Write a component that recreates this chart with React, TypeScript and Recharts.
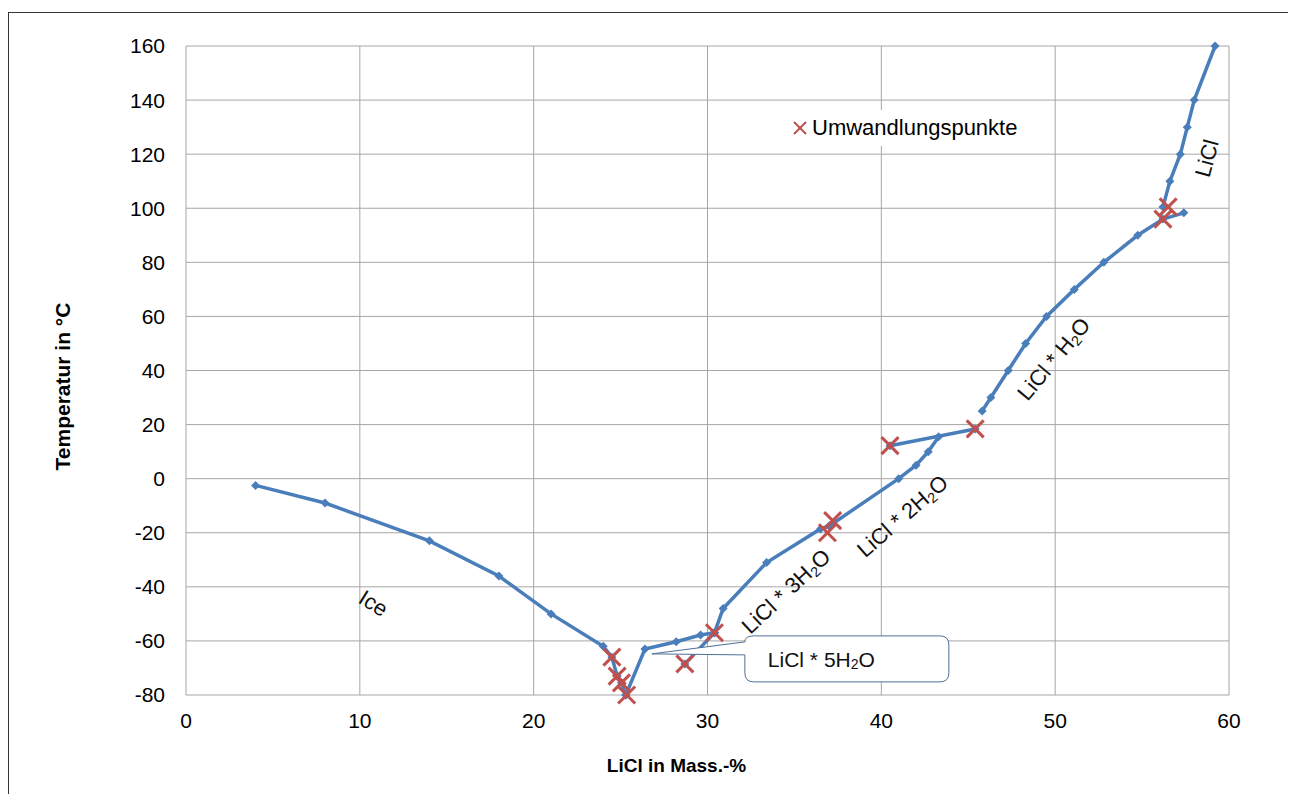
import React from 'react';
import { ScatterChart, Scatter, XAxis, YAxis, CartesianGrid, ReferenceDot } from 'recharts';

// LiCl–H2O phase diagram
const iceX = [4, 8, 14, 18, 21, 24, 24.5, 24.8, 25.05, 25.3];
const iceY = [-2.5, -9, -23, -36, -50, -62, -66, -73, -75.5, -80];

const pentaX = [25.3, 26.4, 28.2, 29.6, 30.4];
const pentaY = [-80, -63, -60.3, -57.8, -57];

const metaX = [28.7, 30.4];
const metaY = [-68.5, -57];

const triX = [30.4, 30.9, 33.4, 36.5, 37.0];
const triY = [-57, -48, -31, -18.6, -17.5];

const diX = [37.0, 41, 42, 42.7, 43.3];
const diY = [-17.5, 0, 5, 10, 15.5];

const linkX = [40.5, 45.4];
const linkY = [12.2, 18.4];

const monoX = [45.8, 46.3, 47.3, 48.3, 49.5, 51.1, 52.8, 54.75, 56.2, 57.4];
const monoY = [25, 30, 40, 50, 60, 70, 80, 90, 96, 98.3];

const anhX = [56.2, 56.6, 57.2, 57.6, 58.0, 59.2];
const anhY = [100.5, 110, 120, 130, 140, 160];

const crossX = [24.5, 24.8, 25.05, 25.35, 28.7, 30.4, 36.9, 37.2, 40.5, 45.4, 56.2, 56.5];
const crossY = [-66, -73, -75.5, -80, -68.5, -57, -20, -15.5, 12.2, 18.4, 96, 100.5];

const xTicks = [0, 10, 20, 30, 40, 50, 60];
const yTicks = [-80, -60, -40, -20, 0, 20, 40, 60, 80, 100, 120, 140, 160];

const BLUE = '#4A7EBB';
const RED = '#C0504D';
const GRID = '#A6A6A6';
const FONT = '"Liberation Sans", Arial, sans-serif';

const zip = (xs: number[], ys: number[]) => xs.map((x, i) => ({ x, y: ys[i] }));

const branches = [
  zip(iceX, iceY),
  zip(pentaX, pentaY),
  zip(metaX, metaY),
  zip(triX, triY),
  zip(diX, diY),
  zip(linkX, linkY),
  zip(monoX, monoY),
  zip(anhX, anhY),
];
const crossData = zip(crossX, crossY);

const Diamond = (props: any) => {
  const { cx, cy } = props;
  const s = 4.5;
  return <path d={`M${cx},${cy - s}L${cx + s},${cy}L${cx},${cy + s}L${cx - s},${cy}Z`} fill={BLUE} />;
};

const Cross = (props: any) => {
  const { cx, cy } = props;
  const s = 8.5;
  return (
    <g stroke={RED} strokeWidth={3}>
      <line x1={cx - s} y1={cy - s} x2={cx + s} y2={cy + s} />
      <line x1={cx - s} y1={cy + s} x2={cx + s} y2={cy - s} />
    </g>
  );
};

// rotated text with optional subscript, centred on the reference point
const Formula = (props: any) => {
  const { viewBox, pre, sub, post, rot = 0, size = 22 } = props;
  const cx = viewBox.x + (viewBox.width || 0) / 2;
  const cy = viewBox.y + (viewBox.height || 0) / 2;
  return (
    <text
      x={cx}
      y={cy}
      transform={`rotate(${rot} ${cx} ${cy})`}
      textAnchor="middle"
      dominantBaseline="central"
      fontSize={size}
      fontFamily={FONT}
      fill="#111"
    >
      <tspan>{pre}</tspan>
      {sub ? (
        <>
          <tspan fontSize={size * 0.65} dy={size * 0.28}>{sub}</tspan>
          <tspan dy={-size * 0.28}>{post}</tspan>
        </>
      ) : null}
    </text>
  );
};

// callout box for the pentahydrate branch, pointer tip at the reference point
const Callout = (props: any) => {
  const { viewBox } = props;
  const tx = viewBox.x + (viewBox.width || 0) / 2;
  const ty = viewBox.y + (viewBox.height || 0) / 2;
  const L = tx + 93, R = tx + 297, T = ty - 18, B = ty + 28, r = 9;
  const d = `M${tx},${ty} L${L},${T + 6} Q${L},${T} ${L + r},${T} H${R - r} Q${R},${T} ${R},${T + r} V${B - r} Q${R},${B} ${R - r},${B} H${L + r} Q${L},${B} ${L},${B - r} V${ty + 1} Z`;
  return (
    <g>
      <path d={d} fill="#fff" stroke="#4F6E96" strokeWidth={1} />
      <text x={tx + 116} y={ty + 5} dominantBaseline="central" fontSize={21} fontFamily={FONT} fill="#111">
        <tspan>LiCl * 5H</tspan>
        <tspan fontSize={14} dy={5.5}>2</tspan>
        <tspan dy={-5.5}>O</tspan>
      </text>
    </g>
  );
};

const YTitle = (props: any) => {
  const { viewBox } = props;
  const x = viewBox.x + 53;
  const y = viewBox.y + viewBox.height / 2 + 16;
  return (
    <text x={x} y={y} transform={`rotate(-90 ${x} ${y})`} textAnchor="middle" dominantBaseline="central"
      fontSize={21} fontWeight="bold" fontFamily={FONT} fill="#000">
      Temperatur in °C
    </text>
  );
};

const XTitle = (props: any) => {
  const { viewBox } = props;
  const x = viewBox.x + viewBox.width / 2 - 31;
  const y = viewBox.y + 70;
  return (
    <text x={x} y={y} textAnchor="middle" dominantBaseline="central"
      fontSize={19} fontWeight="bold" fontFamily={FONT} fill="#000">
      LiCl in Mass.-%
    </text>
  );
};

export default function App() {
  return (
    <div
      style={{
        marginTop: 4,
        width: 1280,
        height: 790,
        border: '1px solid #333',
        position: 'relative',
        background: '#fff',
        fontFamily: FONT,
      }}
    >
      <ScatterChart width={1280} height={790} margin={{ top: 33, right: 60, bottom: 0, left: 0 }}>
        <CartesianGrid stroke={GRID} strokeWidth={1} horizontalValues={yTicks} verticalValues={xTicks} />
        <XAxis
          type="number"
          dataKey="x"
          domain={[0, 60]}
          ticks={xTicks}
          axisLine={false}
          tickLine={false}
          tickSize={0}
          tickMargin={18}
          height={108}
          tick={{ fontSize: 21, fill: '#000', fontFamily: FONT }}
          label={<XTitle />}
        />
        <YAxis
          type="number"
          dataKey="y"
          domain={[-80, 160]}
          ticks={yTicks}
          axisLine={false}
          tickLine={false}
          tickSize={0}
          tickMargin={21}
          width={177}
          tick={{ fontSize: 21, fill: '#000', fontFamily: FONT }}
          label={<YTitle />}
        />
        {branches.map((data, i) => (
          <Scatter
            key={i}
            data={data}
            line={{ stroke: BLUE, strokeWidth: 3.5 }}
            lineType="joint"
            shape={<Diamond />}
            isAnimationActive={false}
          />
        ))}
        <Scatter data={crossData} shape={<Cross />} isAnimationActive={false} />

        <ReferenceDot x={10.8} y={-46} r={0} fill="none" stroke="none" label={<Formula pre="Ice" rot={32} />} />
        <ReferenceDot x={34.5} y={-41.5} r={0} fill="none" stroke="none"
          label={<Formula pre="LiCl * 3H" sub="2" post="O" rot={-43} />} />
        <ReferenceDot x={41.2} y={-13.7} r={0} fill="none" stroke="none"
          label={<Formula pre="LiCl * 2H" sub="2" post="O" rot={-41} />} />
        <ReferenceDot x={49.9} y={44.4} r={0} fill="none" stroke="none"
          label={<Formula pre="LiCl * H" sub="2" post="O" rot={-50} />} />
        <ReferenceDot x={58.7} y={118.5} r={0} fill="none" stroke="none"
          label={<Formula pre="LiCl" rot={-75} />} />
        <ReferenceDot x={26.8} y={-64.8} r={0} fill="none" stroke="none" label={<Callout />} />
      </ScatterChart>

      {/* legend box */}
      <div
        style={{
          position: 'absolute',
          left: 779,
          top: 97,
          width: 250,
          height: 36,
          background: '#fff',
          display: 'flex',
          alignItems: 'center',
        }}
      >
        <svg width={24} height={36} style={{ display: 'block' }}>
          <g stroke={RED} strokeWidth={2}>
            <line x1={6} y1={12} x2={18} y2={24} />
            <line x1={6} y1={24} x2={18} y2={12} />
          </g>
        </svg>
        <span style={{ fontSize: 22, color: '#000' }}>Umwandlungspunkte</span>
      </div>
    </div>
  );
}
